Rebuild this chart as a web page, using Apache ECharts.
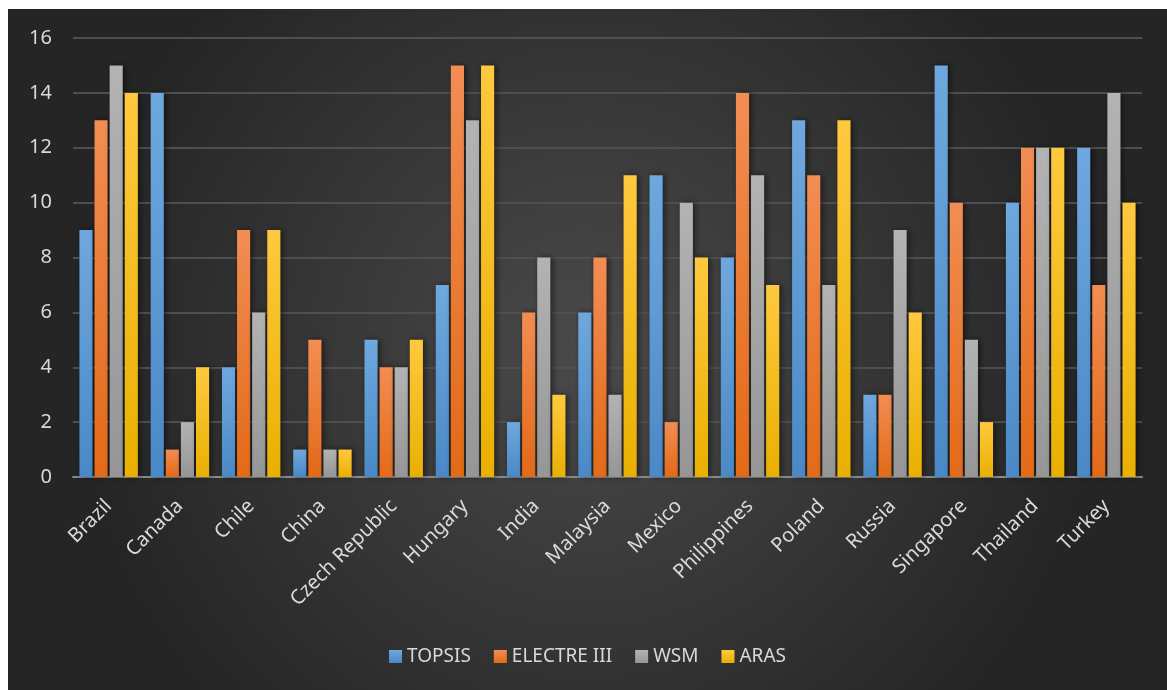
<!DOCTYPE html>
<html>
<head>
<meta charset="utf-8">
<script src="https://cdn.jsdelivr.net/npm/echarts@6/dist/echarts.min.js"></script>
<style>
    html, body { margin: 0; padding: 0; background: #ffffff; }
    #chart { position: absolute; left: 8px; top: 9px; width: 1159px; height: 681px; }
</style>
</head>
<body>
<div id="chart"></div>
<script>
    // categories and values
    const countries = ['Brazil', 'Canada', 'Chile', 'China', 'Czech Republic', 'Hungary', 'India',
        'Malaysia', 'Mexico', 'Philippines', 'Poland', 'Russia', 'Singapore', 'Thailand', 'Turkey'];
    const topsis = [9, 14, 4, 1, 5, 7, 2, 6, 11, 8, 13, 3, 15, 10, 12];
    const electre = [13, 1, 9, 5, 4, 15, 6, 8, 2, 14, 11, 3, 10, 12, 7];
    const wsm = [15, 2, 6, 1, 4, 13, 8, 3, 10, 11, 7, 9, 5, 12, 14];
    const aras = [14, 4, 9, 1, 5, 15, 3, 11, 8, 7, 13, 6, 2, 12, 10];
    const seriesNames = ['TOPSIS', 'ELECTRE III', 'WSM', 'ARAS'];

    const myChart = echarts.init(document.getElementById('chart'));
    const font = '"Noto Sans", "Open Sans", sans-serif';

    function grad(top, bottom) {
        return new echarts.graphic.LinearGradient(0, 0, 0, 1, [
            { offset: 0, color: top },
            { offset: 1, color: bottom }
        ]);
    }

    const colors = [
        ['#6fa8de', '#4a89c6'],
        ['#f28d53', '#e36a17'],
        ['#b3b3b3', '#969696'],
        ['#ffc93f', '#e9b000']
    ];
    const values = [topsis, electre, wsm, aras];

    const series = seriesNames.map(function (name, i) {
        return {
            name: name,
            type: 'bar',
            data: values[i],
            barGap: '15%',
            barCategoryGap: '18%',
            itemStyle: {
                color: grad(colors[i][0], colors[i][1]),
                shadowColor: 'rgba(0,0,0,0.55)',
                shadowBlur: 6,
                shadowOffsetX: 2,
                shadowOffsetY: 0
            },
            emphasis: { disabled: true }
        };
    });

    const option = {
        animation: false,
        backgroundColor: new echarts.graphic.RadialGradient(0.5, 0.5, 0.75, [
            { offset: 0, color: '#4a4a4a' },
            { offset: 1, color: '#252525' }
        ]),
        color: colors.map(function (c) { return c[0]; }),
        textStyle: { fontFamily: font },
        grid: {
            left: 65,
            right: 25,
            top: 29,
            bottom: 213
        },
        legend: {
            bottom: 19,
            left: 'center',
            itemWidth: 13,
            itemHeight: 13,
            itemGap: 23,
            icon: 'rect',
            textStyle: { color: '#d9d9d9', fontSize: 19, fontFamily: font },
            data: seriesNames.map(function (n, i) {
                return { name: n, itemStyle: { color: grad(colors[i][0], colors[i][1]) } };
            })
        },
        xAxis: {
            type: 'category',
            data: countries,
            axisLine: { lineStyle: { color: '#8a8a8a', width: 2 } },
            axisTick: { show: false },
            axisLabel: {
                rotate: 45,
                color: '#d9d9d9',
                fontSize: 20,
                margin: 26,
                interval: 0,
                fontFamily: font
            }
        },
        yAxis: {
            type: 'value',
            min: 0,
            max: 16,
            interval: 2,
            axisLine: { show: false },
            axisTick: { show: false },
            axisLabel: { color: '#d9d9d9', fontSize: 20, margin: 21, fontFamily: font },
            splitLine: { lineStyle: { color: '#4f4f4f', width: 2 } }
        },
        series: series
    };
    myChart.setOption(option);
</script>
</body>
</html>
